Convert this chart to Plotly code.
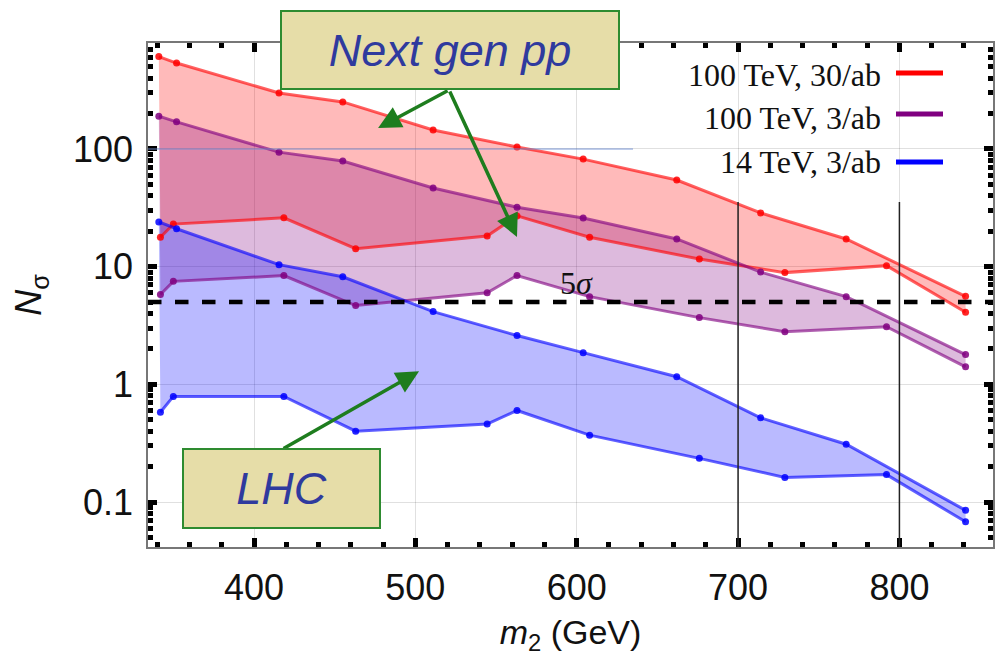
import numpy as np
import plotly.graph_objects as go

# ---------------- data ----------------
m_upper = [341, 352, 415.5, 455, 511, 563, 604, 662, 714, 767, 841]
m_lower = [342, 350, 418.5, 463, 544.5, 563, 608, 676, 729, 792, 841]

red_upper = [610, 537, 299, 251, 145, 104, 82, 54.5, 28.6, 17.2, 5.6]
red_lower = [17.8, 23, 26, 14.2, 18.2, 27, 17.8, 11.6, 8.9, 10.2, 4.1]

purple_upper = [190, 170, 94, 79, 46.6, 32, 25.9, 17.2, 9.0, 5.56, 1.79]
purple_lower = [5.8, 7.5, 8.4, 4.67, 6.0, 8.4, 5.56, 3.69, 2.8, 3.09, 1.41]

blue_upper = [24, 21, 10.4, 8.2, 4.15, 2.6, 1.86, 1.16, 0.52, 0.31, 0.085]
blue_lower = [0.58, 0.79, 0.79, 0.40, 0.46, 0.6, 0.37, 0.235, 0.162, 0.171, 0.068]

series_names = ["100 TeV, 30/ab", "100 TeV, 3/ab", "14 TeV, 3/ab"]
x_ticks = [400, 500, 600, 700, 800]
y_ticks = [0.1, 1, 10, 100]
y_ticklabels = ["0.1", "1", "10", "100"]
five_sigma = 5

bands = [
    (red_upper, red_lower, "255,0,0", 0.27, 0.62),
    (purple_upper, purple_lower, "128,0,128", 0.27, 0.62),
    (blue_upper, blue_lower, "0,0,255", 0.27, 0.62),
]

fig = go.Figure()
for up, lo, rgb, fa, la in bands:
    fig.add_trace(go.Scatter(
        x=m_upper + m_lower[::-1], y=up + lo[::-1],
        mode="none", fill="toself", fillcolor=f"rgba({rgb},{fa})",
        hoverinfo="skip", showlegend=False))
for up, lo, rgb, fa, la in bands:
    for xs, ys in ((m_upper, up), (m_lower, lo)):
        fig.add_trace(go.Scatter(
            x=xs, y=ys, mode="lines+markers",
            line=dict(color=f"rgba({rgb},{la})", width=3),
            marker=dict(color=f"rgba({rgb},0.85)", size=7),
            showlegend=False))

# ---------------- layout ----------------
L, R, T, B = 148, 3, 43, 109
W, H = 996, 656
pw, ph = W - L - R, H - T - B


def px(xp):
    return (xp - L) / pw


def py(yp):
    return (H - B - yp) / ph


tickfont = dict(family="Liberation Sans, Arial", size=36, color="#111")

fig.update_layout(
    width=W, height=H,
    margin=dict(l=L, r=R, t=T, b=B, autoexpand=False),
    paper_bgcolor="white", plot_bgcolor="white",
    showlegend=False,
    xaxis=dict(
        range=[334.3, 858], tickvals=x_ticks, showgrid=True, automargin=False,
        gridcolor="rgba(0,0,0,0.12)", gridwidth=1, zeroline=False,
        showline=True, linecolor="#777", linewidth=1.5, mirror="allticks",
        ticks="inside", ticklen=9, tickwidth=5, tickcolor="black",
        minor=dict(ticks="inside", dtick=20, tick0=0, ticklen=5, tickwidth=5,
                   tickcolor="black", showgrid=False),
        tickfont=tickfont, ticklabelstandoff=8,
        title=dict(text="<i>m</i><sub>2</sub> (GeV)",
                   font=dict(family="Liberation Sans, Arial", size=34, color="#111"),
                   standoff=28),
    ),
    yaxis=dict(
        type="log", range=[np.log10(0.0415), np.log10(795)], automargin=False,
        tickvals=y_ticks, ticktext=y_ticklabels, showgrid=True,
        gridcolor="rgba(0,0,0,0.12)", gridwidth=1, zeroline=False,
        showline=True, linecolor="#777", linewidth=1.5, mirror="allticks",
        ticks="inside", ticklen=9, tickwidth=5, tickcolor="black",
        minor=dict(ticks="inside", dtick="D1", ticklen=5, tickwidth=5,
                   tickcolor="black", showgrid=False),
        tickfont=tickfont, ticklabelstandoff=6,
        title=dict(text="<i>N</i><sub>σ</sub>",
                   font=dict(family="Liberation Sans, Arial", size=36, color="#111"),
                   standoff=20),
    ),
)

shapes = []
# white legend backdrop (hides grid lines)
shapes.append(dict(type="rect", xref="paper", yref="paper", x0=px(633), x1=1,
                   y0=py(200), y1=1, fillcolor="white", line=dict(width=0),
                   layer="between"))
# bluish line at 100
shapes.append(dict(type="line", xref="paper", yref="y", x0=0, x1=px(633),
                   y0=100, y1=100,
                   line=dict(color="rgba(110,140,210,0.6)", width=1.5), layer="above"))
# black vertical lines at 700 and 800
for xv in (700, 800):
    shapes.append(dict(type="line", xref="x", yref="paper", x0=xv, x1=xv,
                       y0=0, y1=py(202), line=dict(color="#222", width=1.5),
                       layer="above"))
# 5 sigma dashed line
shapes.append(dict(type="line", xref="paper", yref="y", x0=0, x1=1,
                   y0=five_sigma, y1=five_sigma,
                   line=dict(color="black", width=4.5, dash="dash"), layer="above"))

# legend (text left, line right)
leg_colors = ["red", "#800080", "blue"]
leg_text_y = [75, 118, 162]
leg_line_y = [73, 114, 162]
annotations = []
for name, c, ty, ly in zip(series_names, leg_colors, leg_text_y, leg_line_y):
    annotations.append(dict(text=name, xref="paper", yref="paper", x=px(883),
                            y=py(ty), xanchor="right", yanchor="middle",
                            showarrow=False,
                            font=dict(family="Liberation Serif, Times New Roman",
                                      size=32, color="#111")))
    shapes.append(dict(type="line", xref="paper", yref="paper", x0=px(896),
                       x1=px(943), y0=py(ly), y1=py(ly),
                       line=dict(color=c, width=5), layer="above"))

# 5 sigma label
annotations.append(dict(text="5<i>σ</i>", x=600, y=np.log10(7.3), xref="x", yref="y",
                        showarrow=False,
                        font=dict(family="Liberation Serif, Times New Roman",
                                  size=32, color="#111")))

arrow_color = "#1E7D1E"
box_fill = "#E6DDA8"
box_line = "#2E8B30"
box_text = "#2F3A9E"

# arrows from "Next gen pp"
for tip in ((476.9, 150.7), (563, 17.9)):
    annotations.append(dict(text="", x=tip[0], y=np.log10(tip[1]), xref="x", yref="y",
                            ax=520.9, ay=np.log10(317), axref="x", ayref="y",
                            showarrow=True, arrowhead=2, arrowsize=1.3,
                            arrowwidth=3.5, arrowcolor=arrow_color))
# arrow from LHC
annotations.append(dict(text="", x=502.3, y=np.log10(1.29), xref="x", yref="y",
                        ax=417.4, ay=np.log10(0.28), axref="x", ayref="y",
                        showarrow=True, arrowhead=2, arrowsize=1.3,
                        arrowwidth=3.5, arrowcolor=arrow_color))

# boxes
annotations.append(dict(text="<i>Next gen pp</i>", xref="paper", yref="paper",
                        x=px(450), y=py(50), xanchor="center", yanchor="middle",
                        showarrow=False, width=336, height=76, borderpad=0,
                        bgcolor=box_fill, bordercolor=box_line, borderwidth=2,
                        font=dict(family="Liberation Sans, Arial", size=45,
                                  color=box_text)))
annotations.append(dict(text="<i>LHC</i>", xref="paper", yref="paper",
                        x=px(281.5), y=py(488.5), xanchor="center", yanchor="middle",
                        showarrow=False, width=195, height=77, borderpad=0,
                        bgcolor=box_fill, bordercolor=box_line, borderwidth=2,
                        font=dict(family="Liberation Sans, Arial", size=45,
                                  color=box_text)))

fig.update_layout(shapes=shapes, annotations=annotations)
fig.write_html("out.html")
